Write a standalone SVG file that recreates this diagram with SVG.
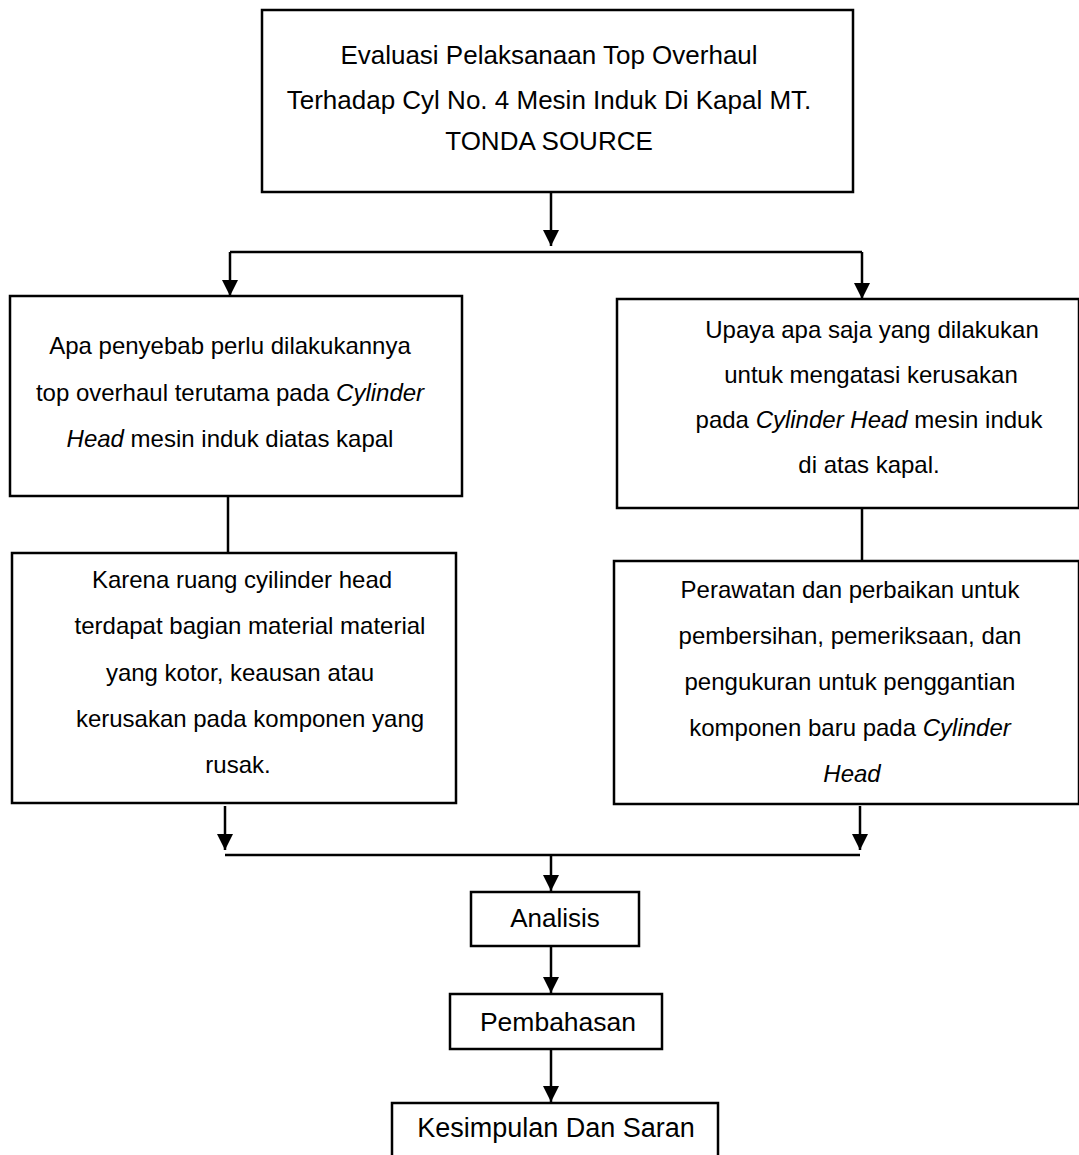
<svg xmlns="http://www.w3.org/2000/svg" width="1079" height="1155" viewBox="0 0 1079 1155">
<style>
.box{fill:#fff;stroke:#000;stroke-width:2.5}
.ln{fill:none;stroke:#000;stroke-width:2.5}
.ar{fill:none;stroke:#000;stroke-width:2.5;marker-end:url(#ah)}
text{font-family:"Liberation Sans",Arial,sans-serif;font-size:24px;fill:#000;text-anchor:middle}
.it{font-style:italic}
.big{font-size:26px}
</style>
<defs>
<marker id="ah" viewBox="0 0 16 16" refX="16" refY="8" markerWidth="16" markerHeight="16" markerUnits="userSpaceOnUse" orient="auto">
<path d="M0,0 L16,8 L0,16 Z" fill="#000"/>
</marker>
</defs>
<rect width="1079" height="1155" fill="#fff"/>
<g id="connectors">
<line class="ar" x1="551" y1="192" x2="551" y2="246"/>
<line class="ln" x1="230" y1="252" x2="862" y2="252"/>
<line class="ar" x1="230" y1="252" x2="230" y2="296"/>
<line class="ar" x1="862" y1="252" x2="862" y2="299"/>
<line class="ln" x1="228" y1="496" x2="228" y2="553"/>
<line class="ln" x1="862" y1="508" x2="862" y2="561"/>
<line class="ar" x1="225" y1="806" x2="225" y2="850"/>
<line class="ar" x1="860" y1="806" x2="860" y2="850"/>
<line class="ln" x1="225" y1="855" x2="860" y2="855"/>
<line class="ar" x1="551" y1="855" x2="551" y2="891"/>
<line class="ar" x1="551" y1="946" x2="551" y2="993"/>
<line class="ar" x1="551" y1="1049" x2="551" y2="1102"/>
</g>
<g id="n1"><rect class="box" x="262" y="10" width="591" height="182"/>
<text class="big" x="549" y="64">Evaluasi Pelaksanaan Top Overhaul</text>
<text class="big" x="549" y="109">Terhadap Cyl No. 4 Mesin Induk Di Kapal MT.</text>
<text class="big" x="549" y="150">TONDA SOURCE</text></g>
<g id="n2"><rect class="box" x="10" y="296" width="452" height="200"/>
<text x="230" y="354">Apa penyebab perlu dilakukannya</text>
<text x="230" y="401">top overhaul terutama pada <tspan class="it">Cylinder</tspan></text>
<text x="230" y="447"><tspan class="it">Head</tspan> mesin induk diatas kapal</text></g>
<g id="n3"><rect class="box" x="617" y="299" width="462" height="209"/>
<text x="872" y="338">Upaya apa saja yang dilakukan</text>
<text x="871" y="383">untuk mengatasi kerusakan</text>
<text x="869" y="428">pada <tspan class="it">Cylinder Head</tspan> mesin induk</text>
<text x="869" y="473">di atas kapal.</text></g>
<g id="n4"><rect class="box" x="12" y="553" width="444" height="250"/>
<text x="242" y="588">Karena ruang cyilinder head</text>
<text x="250" y="634">terdapat bagian material material</text>
<text x="240" y="681">yang kotor, keausan atau</text>
<text x="250" y="727">kerusakan pada komponen yang</text>
<text x="238" y="773">rusak.</text></g>
<g id="n5"><rect class="box" x="614" y="561" width="465" height="243"/>
<text x="850" y="598">Perawatan dan perbaikan untuk</text>
<text x="850" y="644">pembersihan, pemeriksaan, dan</text>
<text x="850" y="690">pengukuran untuk penggantian</text>
<text x="850" y="736">komponen baru pada <tspan class="it">Cylinder</tspan></text>
<text x="852" y="782" class="it">Head</text></g>
<g id="n6"><rect class="box" x="471" y="892" width="168" height="54"/>
<text class="big" x="555" y="927">Analisis</text></g>
<g id="n7"><rect class="box" x="450" y="994" width="212" height="55"/>
<text x="558" y="1031" style="font-size:26.5px">Pembahasan</text></g>
<g id="n8"><rect class="box" x="392" y="1103" width="326" height="70"/>
<text x="556" y="1137" style="font-size:27px">Kesimpulan Dan Saran</text></g>
</svg>
